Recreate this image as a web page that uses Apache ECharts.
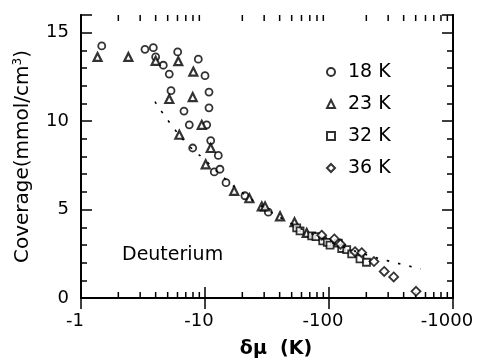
<!DOCTYPE html>
<html>
<head>
<meta charset="utf-8">
<script src="https://cdn.jsdelivr.net/npm/echarts@6/dist/echarts.min.js"></script>
<style>html,body{margin:0;padding:0;background:#fff}#c{width:478px;height:364px}</style>
</head>
<body>
<div id="c"></div>
<script>
// ---- data (x = |δμ| in K, y = coverage in mmol/cm^3) ----
const seriesNames = ['18 K', '23 K', '32 K', '36 K'];
const data18K = [[1.47,14.25],[3.28,14.06],[3.83,14.15],[4.0,13.63],[4.61,13.16],[5.15,12.66],[6.02,13.91],[8.83,13.5],[10.0,12.57],[10.77,11.64],[10.77,10.75],[10.32,9.79],[11.12,8.9],[12.8,8.06],[11.88,7.13],[13.2,7.28],[5.32,11.72],[6.77,10.57],[7.47,9.79],[7.96,8.48],[14.77,6.52],[21.0,5.78],[32.4,4.85]];
const data23K = [[1.36,13.63],[2.41,13.63],[4.0,13.41],[6.09,13.39],[8.05,12.8],[5.15,11.25],[7.96,11.36],[9.41,9.79],[6.21,9.23],[11.12,8.48],[10.13,7.56],[17.2,6.06],[22.8,5.64],[28.7,5.18],[30.5,5.18],[40.3,4.62],[52.7,4.29],[66.1,3.68]];
const data32K = [[54.9,3.97],[58.4,3.79],[72.5,3.51],[78.5,3.47],[89.0,3.23],[96.9,3.14],[101.9,2.99],[118.9,3.10],[126.6,2.80],[138.9,2.73],[152.4,2.49],[177.8,2.21],[200.6,2.02]];
const data36K = [[87.3,3.55],[110.4,3.34],[123.8,3.04],[162.1,2.62],[183.5,2.56],[230.6,2.06],[278.7,1.50],[332.4,1.19],[503.3,0.38]];
const fitCurve = [[3.95,11.1],[5.2,9.9],[7.1,8.75],[10,7.8],[15,6.65],[20,5.95],[30,5.1],[50,4.2],[70,3.68],[100,3.2],[150,2.73],[200,2.45],[300,2.1],[550,1.65]];
const xTickLabels = ['-1', '-10', '-100', '-1000'];
const xMinorTicks = [2,3,4,5,6,7,8,9,20,30,40,50,60,70,80,90,200,300,400,500,600,700,800,900];

const FONT = 'DejaVu Sans';
const BLACK = '#000';
const chart = echarts.init(document.getElementById('c'), null, {renderer: 'canvas'});

function logLabel(v) {
  const i = Math.round(Math.log10(v));
  return xTickLabels[i] !== undefined ? xTickLabels[i] : '';
}

const baseX = {
  type: 'log', logBase: 10, min: 1, max: 1000,
  axisLine: {show: true, lineStyle: {color: BLACK, width: 1.8}},
  axisTick: {show: true, inside: true, length: 11, lineStyle: {color: BLACK, width: 1.5}},
  splitLine: {show: false}, minorTick: {show: false}
};
const baseY = {
  type: 'value', min: 0, max: 16,
  axisLine: {show: true, lineStyle: {color: BLACK, width: 1.8}},
  splitLine: {show: false}
};

const symStyle = {color: '#fff', borderColor: BLACK, borderWidth: 1.8};

chart.setOption({
  animation: false,
  backgroundColor: '#fff',
  grid: {left: 81, right: 25, top: 15, bottom: 61, containLabel: false},
  xAxis: [
    Object.assign({}, baseX, {
      position: 'bottom',
      axisLabel: {formatter: logLabel, fontFamily: FONT, fontSize: 18, color: BLACK, margin: 14, padding: [0, 12, 0, 0]},
      name: 'δμ  (K)', nameLocation: 'middle', nameGap: 42,
      nameTextStyle: {fontFamily: FONT, fontSize: 19, fontWeight: 'bold', color: BLACK, padding: [0, 0, 0, 18]}
    }),
    Object.assign({}, baseX, {position: 'top', axisLabel: {show: false}})
  ],
  yAxis: [
    Object.assign({}, baseY, {
      position: 'left', interval: 5,
      axisTick: {show: true, inside: true, length: 11, lineStyle: {color: BLACK, width: 1.5}},
      axisLabel: {formatter: v => (v % 5 === 0 ? String(v) : ''), fontFamily: FONT, fontSize: 18, color: BLACK, margin: 12},
      name: 'Coverage(mmol/cm{sup|3})', nameLocation: 'middle', nameGap: 47, nameRotate: 90,
      nameTextStyle: {fontFamily: FONT, fontSize: 20, color: BLACK,
        rich: {sup: {fontFamily: FONT, fontSize: 12, color: BLACK, verticalAlign: 'top', padding: [0, 0, 10, 0]}}}
    }),
    Object.assign({}, baseY, {position: 'left', interval: 1,
      axisTick: {show: true, inside: true, length: 6, lineStyle: {color: BLACK, width: 1.5}}, axisLabel: {show: false}}),
    Object.assign({}, baseY, {position: 'right', interval: 5,
      axisTick: {show: true, inside: true, length: 11, lineStyle: {color: BLACK, width: 1.5}}, axisLabel: {show: false}}),
    Object.assign({}, baseY, {position: 'right', interval: 1,
      axisTick: {show: true, inside: true, length: 6, lineStyle: {color: BLACK, width: 1.5}}, axisLabel: {show: false}})
  ],
  legend: {
    data: seriesNames, orient: 'vertical', left: 321, top: 57,
    itemWidth: 8, itemHeight: 8, itemGap: 12,
    textStyle: {fontFamily: FONT, fontSize: 19, color: BLACK, lineHeight: 20, padding: [0, 0, 0, 8]},
    selectedMode: false
  },
  graphic: [{
    type: 'text', left: 122, top: 246,
    style: {text: 'Deuterium', fontFamily: FONT, fontSize: 19, fill: BLACK}
  }],
  series: [
    {
      type: 'custom', silent: true, clip: false, xAxisIndex: 0, yAxisIndex: 0,
      data: xMinorTicks.map(v => [v, 0]),
      renderItem: function (params, api) {
        const v = api.value(0);
        const b = api.coord([v, 0]);
        const t = api.coord([v, 16]);
        return {type: 'group', children: [
          {type: 'line', shape: {x1: b[0], y1: b[1], x2: b[0], y2: b[1] - 6}, style: {stroke: BLACK, lineWidth: 1.5}},
          {type: 'line', shape: {x1: t[0], y1: t[1], x2: t[0], y2: t[1] + 6}, style: {stroke: BLACK, lineWidth: 1.5}}
        ]};
      }
    },
    {
      type: 'line', data: fitCurve, smooth: true, showSymbol: false, silent: true,
      lineStyle: {color: BLACK, width: 1.6, type: [2.5, 9]}
    },
    {name: seriesNames[0], type: 'scatter', data: data18K, symbol: 'circle', symbolSize: 7, itemStyle: symStyle},
    {name: seriesNames[1], type: 'scatter', data: data23K, symbol: 'triangle', symbolSize: 8, itemStyle: Object.assign({}, symStyle, {borderWidth: 2.2})},
    {name: seriesNames[2], type: 'scatter', data: data32K, symbol: 'rect', symbolSize: 7, itemStyle: symStyle},
    {name: seriesNames[3], type: 'scatter', data: data36K, symbol: 'diamond', symbolSize: 9, itemStyle: symStyle}
  ]
});
</script>
</body>
</html>
